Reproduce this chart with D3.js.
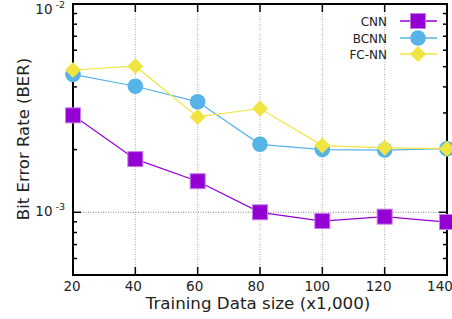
<!DOCTYPE html>
<html><head><meta charset="utf-8">
<script src="https://cdn.jsdelivr.net/npm/d3@7"></script>
<style>body{margin:0;background:#fff}svg{display:block}text{font-family:"DejaVu Sans",sans-serif}</style>
</head><body><svg id="c" width="452" height="319"></svg>
<script>
const xValues = [20, 40, 60, 80, 100, 120, 140];
const cnn  = [2.92e-3, 1.80e-3, 1.41e-3, 1.00e-3, 0.908e-3, 0.953e-3, 0.898e-3];
const bcnn = [4.59e-3, 4.03e-3, 3.39e-3, 2.12e-3, 2.00e-3, 1.99e-3, 2.02e-3];
const fcnn = [4.82e-3, 5.03e-3, 2.87e-3, 3.15e-3, 2.09e-3, 2.04e-3, 2.02e-3];
const seriesNames = ["CNN", "BCNN", "FC-NN"];
const xTicks = [20, 40, 60, 80, 100, 120, 140];
const yMajor = [1e-3, 1e-2];
const yMinor = [5e-4,6e-4,7e-4,8e-4,9e-4,2e-3,3e-3,4e-3,5e-3,6e-3,7e-3,8e-3,9e-3];

const svg = d3.select("#c");
const L = 73, R = 447, T = 4, B = 275;
const x = d3.scaleLinear().domain([20, 140]).range([L, R]);
const y = d3.scaleLog().domain([5e-4, 1e-2]).range([B, T]);

// grid
const g = svg.append("g");
xTicks.slice(1, -1).forEach(v => g.append("line").attr("x1", x(v)).attr("x2", x(v)).attr("y1", T).attr("y2", B)
  .attr("stroke", "#aaa").attr("stroke-width", 1).attr("stroke-dasharray", "1,1.5"));
g.append("line").attr("x1", L).attr("x2", R).attr("y1", y(1e-3)).attr("y2", y(1e-3))
  .attr("stroke", "#888").attr("stroke-width", 1).attr("stroke-dasharray", "1,1.5");

// ticks (inward, mirrored)
const tk = svg.append("g").attr("stroke", "#000").attr("stroke-width", 1.5);
xTicks.forEach(v => {
  tk.append("line").attr("x1", x(v)).attr("x2", x(v)).attr("y1", B).attr("y2", B - 8);
  tk.append("line").attr("x1", x(v)).attr("x2", x(v)).attr("y1", T).attr("y2", T + 8);
});
yMajor.forEach(v => {
  tk.append("line").attr("x1", L).attr("x2", L + 8).attr("y1", y(v)).attr("y2", y(v));
  tk.append("line").attr("x1", R).attr("x2", R - 8).attr("y1", y(v)).attr("y2", y(v));
});
yMinor.forEach(v => {
  tk.append("line").attr("x1", L).attr("x2", L + 4).attr("y1", y(v)).attr("y2", y(v));
  tk.append("line").attr("x1", R).attr("x2", R - 4).attr("y1", y(v)).attr("y2", y(v));
});
svg.append("rect").attr("x", L).attr("y", T).attr("width", R - L).attr("height", B - T)
  .attr("fill", "none").attr("stroke", "#000").attr("stroke-width", 2);

// tick labels
xTicks.forEach(v => svg.append("text").attr("x", x(v)).attr("dx", -v / 20).attr("y", 291).attr("text-anchor", "middle")
  .attr("font-size", 13.5).attr("fill", "#222").text(v));
yMajor.forEach(v => {
  const t = svg.append("text").attr("x", 65).attr("y", Math.max(y(v) + 4, 13.5)).attr("text-anchor", "end")
    .attr("font-size", 13.5).attr("fill", "#222");
  t.append("tspan").text("10");
  t.append("tspan").attr("dx", 3).attr("dy", -6).attr("font-size", 9.5).text(String(Math.round(Math.log10(v))));
});

// axis titles
svg.append("text").attr("x", 258).attr("y", 309).attr("text-anchor", "middle").attr("font-size", 16.7)
  .attr("fill", "#222").text("Training Data size (x1,000)");
svg.append("text").attr("transform", "translate(29,139) rotate(-90)").attr("text-anchor", "middle")
  .attr("font-size", 16.5).attr("fill", "#222").text("Bit Error Rate (BER)");

// series
const colors = ["#9400d3", "#56b4e9", "#f0e442"];
const data = [cnn, bcnn, fcnn];
const line = d3.line().x((d, i) => x(xValues[i])).y(d => y(d));
function marker(sel, k, cx, cy) {
  if (k === 0) sel.append("rect").attr("x", cx - 7.5).attr("y", cy - 7.5).attr("width", 15).attr("height", 15)
    .attr("fill", colors[0]).attr("stroke", "#c77ee8").attr("stroke-width", 1);
  else if (k === 1) sel.append("circle").attr("cx", cx).attr("cy", cy).attr("r", 7.8).attr("fill", colors[1]);
  else sel.append("path").attr("d", `M${cx},${cy - 8}L${cx + 8},${cy}L${cx},${cy + 8}L${cx - 8},${cy}Z`).attr("fill", colors[2]);
}
data.forEach((arr, k) => {
  const gs = svg.append("g");
  gs.append("path").attr("d", line(arr)).attr("fill", "none").attr("stroke", colors[k]).attr("stroke-width", 1.2);
  arr.forEach((v, i) => marker(gs, k, x(xValues[i]), y(v)));
});

// legend
const ly = [21, 38, 54];
seriesNames.forEach((n, k) => {
  svg.append("text").attr("x", 387).attr("y", ly[k] + 4.5).attr("text-anchor", "end").attr("font-size", 12)
    .attr("fill", "#222").text(n);
  svg.append("line").attr("x1", 400).attr("x2", 437).attr("y1", ly[k]).attr("y2", ly[k])
    .attr("stroke", colors[k]).attr("stroke-width", 1.5);
  marker(svg, k, 418, ly[k]);
});
</script></body></html>
